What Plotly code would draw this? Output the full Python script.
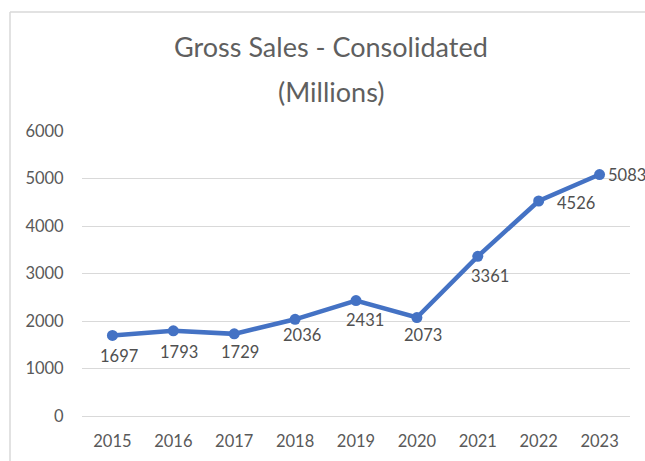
import plotly.graph_objects as go

years = ["2015", "2016", "2017", "2018", "2019", "2020", "2021", "2022", "2023"]
sales = [1697, 1793, 1729, 2036, 2431, 2073, 3361, 4526, 5083]

# label placement (style only)
lab_xanchor = ["center"] * 7 + ["left", "left"]
lab_xshift = [7, 6, 6, 7, 9, 6, 12, 16, 6]
lab_yshift = [-21, -21, -18, -16, -19, -17, -20, -2, 0]

FONT = "Lato, 'Open Sans', sans-serif"
GRID = "#d9d9d9"
TXT = "#595959"

fig = go.Figure()
fig.add_trace(go.Scatter(
    x=years, y=sales, mode="lines+markers",
    line=dict(color="#4472C4", width=4.5),
    marker=dict(color="#4472C4", size=11),
    cliponaxis=False, showlegend=False,
))

annotations = [
    dict(x=i, y=v, xref="x", yref="y", text=str(v), showarrow=False,
         xanchor=xa, yanchor="middle", xshift=xs, yshift=ys,
         font=dict(family=FONT, size=16.5, color="#505050"))
    for i, (v, xa, xs, ys) in enumerate(zip(sales, lab_xanchor, lab_xshift, lab_yshift))
]
annotations += [
    dict(text="Gross Sales - Consolidated", xref="paper", yref="paper",
         x=0.455, y=(416 - 47) / 285, xanchor="center", yanchor="middle",
         showarrow=False, font=dict(size=27, color="#5f5f5f", family=FONT)),
    dict(text="(Millions)", xref="paper", yref="paper",
         x=0.455, y=(416 - 91) / 285, xanchor="center", yanchor="middle",
         showarrow=False, font=dict(size=27, color="#5f5f5f", family=FONT)),
]

fig.update_layout(
    width=645, height=461,
    margin=dict(l=82, r=15, t=131, b=45, autoexpand=False),
    paper_bgcolor="white", plot_bgcolor="white",
    font=dict(family=FONT, color=TXT),
    xaxis=dict(type="category", range=[-0.5, 8.5], showgrid=False, showline=False,
               automargin=False,
               ticks="outside", ticklen=10, tickcolor="rgba(0,0,0,0)",
               tickfont=dict(size=16.5, color=TXT)),
    yaxis=dict(range=[0, 6000], dtick=1000, showgrid=True, gridcolor=GRID, gridwidth=1,
               automargin=False,
               zeroline=True, zerolinecolor=GRID, zerolinewidth=1, showline=False,
               ticks="outside", ticklen=14, tickcolor="rgba(0,0,0,0)",
               tickfont=dict(size=16.5, color=TXT)),
    annotations=annotations,
    shapes=[
        dict(type="line", xref="paper", yref="paper", x0=(10 - 82) / 548, x1=(10 - 82) / 548,
             y0=(416 - 12) / 285, y1=(416 - 470) / 285, line=dict(color=GRID, width=1.5)),
        dict(type="line", xref="paper", yref="paper", x0=(10 - 82) / 548, x1=(660 - 82) / 548,
             y0=(416 - 12) / 285, y1=(416 - 12) / 285, line=dict(color=GRID, width=1.5)),
    ],
)

fig.write_html("out.html")
